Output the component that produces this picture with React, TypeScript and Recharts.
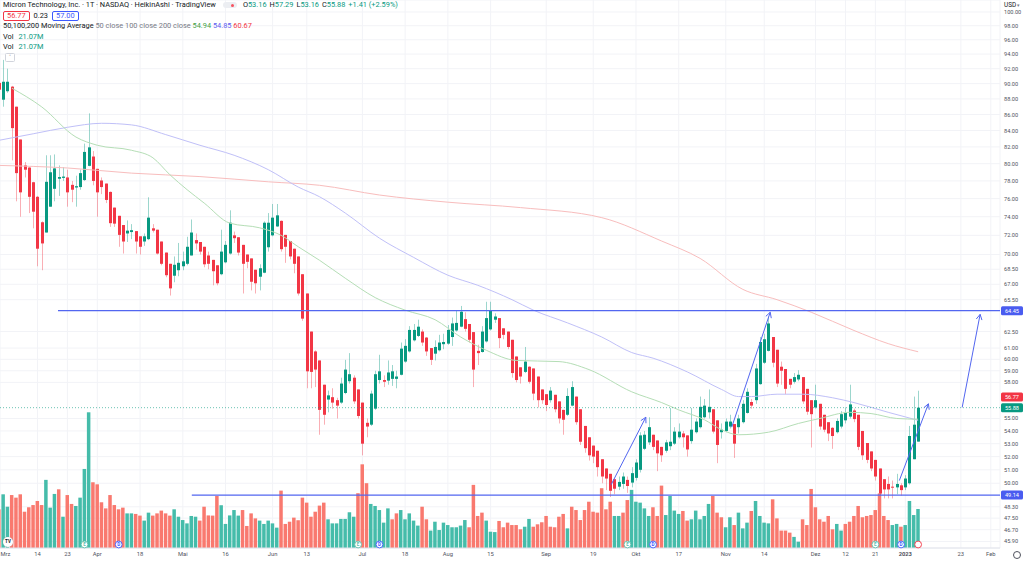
import React from "react";
import {
  ComposedChart,
  Bar,
  Line,
  XAxis,
  YAxis,
  CartesianGrid,
  ReferenceLine,
  ReferenceDot,
} from "recharts";

// Heikin Ashi candles, one per trading day (Mar 1 2022 .. Jan 6 2023)
const opens = [
  90.1, 87.9, 89.0, 89.6, 87.0, 82.9, 79.8, 79.55, 77.85, 76.2,
  73.4, 72.3, 75.1, 77.1, 78.25, 78.35, 78.4, 77.55, 77.25, 77.3,
  78.1, 79.75, 80.85, 79.4, 78.05, 77.7, 76.75, 75.0, 74.1, 73.1,
  72.2, 72.35, 72.45, 71.9, 71.35, 71.6, 72.75, 72.6, 71.35, 70.2,
  69.05, 67.85, 68.4, 68.8, 69.05, 69.9, 71.5, 71.3, 70.8, 69.9,
  69.45, 68.9, 68.0, 69.2, 70.1, 72.0, 71.8, 71.0, 70.0, 69.6,
  68.45, 67.75, 68.15, 70.75, 72.0, 72.95, 73.55, 72.05, 71.4, 70.6,
  69.8, 68.0, 66.1, 62.5, 60.7, 59.9, 57.8, 56.55, 56.75, 56.5,
  56.3, 57.1, 58.1, 58.4, 57.4, 56.3, 54.65, 54.5, 55.8, 58.2,
  58.2, 58.15, 58.3, 58.3, 58.65, 59.8, 60.7, 61.7, 62.1, 62.5,
  61.95, 61.0, 60.5, 60.8, 61.35, 61.4, 62.0, 62.6, 62.95, 63.65,
  63.2, 62.45, 60.75, 60.65, 61.6, 62.7, 63.6, 63.75, 62.8, 62.5,
  61.75, 60.25, 59.3, 58.9, 59.35, 59.2, 58.5, 57.4, 57.0, 56.5,
  56.95, 56.4, 55.7, 55.3, 56.05, 56.8, 55.75, 54.4, 53.5, 52.85,
  52.45, 51.8, 51.1, 50.7, 50.3, 49.75, 49.95, 50.25, 50.05, 50.4,
  51.0, 52.6, 53.1, 53.7, 53.25, 52.75, 52.45, 52.8, 53.0, 53.5,
  53.8, 53.65, 53.2, 53.9, 54.3, 55.1, 55.5, 55.75, 54.85, 53.9,
  54.0, 54.35, 54.55, 54.3, 54.7, 55.45, 56.35, 56.5, 57.85, 59.7,
  60.75, 62.0, 60.85, 59.35, 59.15, 58.3, 58.05, 58.25, 58.45, 57.45,
  56.5, 55.9, 56.2, 55.3, 54.7, 54.25, 53.9, 54.35, 54.85, 55.15,
  55.65, 55.3, 54.0, 53.05, 52.4, 51.75, 51.1, 50.3, 49.95, 49.75,
  49.7, 49.85, 49.7, 50.0, 51.8, 53.16,
];

const closes = [
  89.2, 90.25, 90.25, 84.3, 78.9, 76.7, 79.3, 76.2, 74.55, 70.6,
  71.15, 77.9, 79.0, 79.45, 78.45, 78.5, 76.7, 77.0, 77.4, 78.9,
  81.4, 81.95, 78.0, 76.7, 77.3, 75.85, 73.3, 73.25, 72.05, 71.35,
  72.5, 72.55, 71.35, 70.8, 71.9, 73.9, 72.5, 70.1, 69.05, 67.9,
  66.6, 68.95, 69.15, 69.3, 70.8, 72.3, 71.15, 70.3, 69.0, 69.05,
  68.3, 67.1, 70.3, 71.0, 73.35, 71.7, 70.2, 69.05, 69.25, 67.25,
  67.1, 68.6, 73.35, 73.35, 73.9, 74.15, 70.55, 70.8, 69.8, 69.05,
  66.1, 63.7, 58.95, 58.9, 59.1, 55.7, 55.3, 56.9, 56.3, 56.05,
  57.9, 59.1, 58.7, 56.4, 55.2, 53.0, 54.35, 57.05, 58.7, 58.95,
  58.05, 58.85, 58.95, 58.5, 60.95, 61.2, 62.65, 62.65, 62.95, 61.5,
  60.7, 59.95, 61.1, 61.5, 61.55, 62.65, 63.25, 63.3, 64.35, 62.75,
  61.75, 59.1, 60.55, 62.5, 63.75, 64.5, 63.9, 61.9, 62.2, 61.1,
  58.8, 58.2, 58.5, 59.8, 58.05, 57.05, 56.5, 56.5, 56.1, 57.3,
  55.75, 55.0, 54.9, 56.85, 57.6, 54.7, 53.15, 52.65, 52.1, 52.0,
  51.2, 50.5, 50.35, 49.45, 49.6, 50.1, 50.5, 49.8, 50.75, 51.55,
  53.65, 53.7, 54.3, 52.75, 52.25, 52.1, 53.1, 53.15, 53.95, 53.95,
  53.5, 52.55, 54.1, 54.75, 55.95, 56.05, 55.95, 53.95, 52.9, 54.1,
  54.75, 54.75, 53.0, 55.0, 56.2, 57.2, 56.05, 59.2, 61.55, 61.8,
  63.25, 59.7, 57.9, 59.0, 57.45, 57.8, 58.45, 58.65, 56.4, 55.55,
  55.35, 56.5, 54.35, 54.1, 53.8, 53.6, 54.8, 55.35, 55.45, 56.15,
  54.95, 52.75, 52.1, 51.75, 51.1, 50.5, 49.25, 49.55, 49.55, 49.7,
  49.95, 49.5, 50.35, 53.6, 54.5, 55.88,
];

const highs = [
  90.4, 93.2, 92.0, 89.7, 87.0, 82.9, 80.2, 79.6, 77.9, 76.3,
  73.5, 81.0, 81.0, 81.1, 79.8, 79.6, 79.3, 78.0, 78.6, 79.3,
  82.4, 86.15, 81.5, 79.4, 78.4, 77.7, 76.8, 75.0, 74.1, 73.1,
  73.6, 73.2, 72.45, 71.9, 72.2, 76.15, 73.2, 72.6, 71.35, 70.2,
  69.05, 69.8, 71.2, 70.3, 71.85, 73.7, 72.2, 71.3, 70.8, 70.3,
  69.45, 68.9, 72.6, 71.4, 74.7, 72.4, 71.8, 71.0, 70.0, 69.6,
  68.45, 69.0, 73.5, 74.4, 75.4, 75.4, 73.6, 72.05, 71.4, 70.6,
  69.8, 68.0, 66.1, 62.5, 60.8, 59.9, 57.8, 57.3, 57.5, 56.7,
  58.4, 59.95, 60.55, 58.6, 57.4, 56.3, 55.0, 57.3, 59.0, 60.4,
  58.6, 59.9, 59.5, 59.0, 61.5, 61.8, 63.0, 63.2, 63.6, 62.7,
  62.0, 61.0, 61.7, 62.2, 62.3, 63.1, 63.8, 64.5, 64.9, 64.3,
  63.2, 62.45, 61.3, 63.0, 65.3, 65.3, 64.2, 63.75, 62.8, 62.5,
  61.75, 60.25, 59.3, 61.1, 59.4, 59.2, 58.5, 57.4, 57.0, 57.6,
  56.95, 56.4, 55.7, 57.5, 58.1, 56.8, 55.75, 54.4, 53.5, 52.85,
  52.45, 51.8, 51.1, 50.7, 50.35, 50.5, 50.8, 50.5, 51.2, 51.8,
  53.9, 54.0, 55.1, 53.7, 53.25, 52.75, 53.3, 55.85, 54.3, 54.6,
  54.0, 53.65, 55.85, 55.0, 56.8, 56.6, 57.4, 55.75, 54.85, 54.6,
  55.0, 55.3, 54.55, 55.3, 56.5, 57.5, 56.6, 59.6, 62.0, 62.3,
  63.9, 62.0, 60.85, 59.8, 59.15, 58.3, 58.8, 59.05, 58.45, 57.45,
  56.5, 57.8, 56.2, 55.3, 54.7, 54.3, 55.0, 55.6, 55.9, 57.8,
  55.8, 55.3, 54.0, 53.05, 52.4, 51.75, 51.1, 50.3, 50.5, 50.2,
  50.7, 50.0, 50.6, 54.4, 56.8, 57.29,
];

const lows = [
  88.8, 87.0, 88.8, 80.4, 75.7, 74.0, 78.4, 74.4, 72.75, 68.8,
  68.4, 72.3, 75.1, 75.7, 76.3, 78.0, 75.1, 75.6, 75.1, 77.0,
  78.0, 79.7, 77.5, 74.0, 76.5, 75.5, 72.9, 72.9, 70.8, 70.1,
  71.3, 71.6, 70.1, 70.0, 70.9, 71.5, 72.3, 70.0, 68.9, 67.7,
  65.9, 67.2, 67.8, 68.4, 68.9, 69.9, 70.5, 70.0, 68.7, 68.5,
  66.9, 66.9, 67.9, 69.1, 70.0, 71.2, 69.9, 66.1, 68.6, 66.4,
  66.1, 66.4, 68.1, 70.3, 71.9, 72.9, 70.3, 69.15, 69.5, 68.1,
  65.9, 63.5, 57.5, 57.5, 57.6, 53.7, 54.5, 55.5, 55.8, 55.0,
  56.2, 57.0, 57.9, 56.2, 55.0, 52.1, 53.5, 54.4, 55.7, 57.9,
  57.6, 57.8, 57.7, 57.5, 58.6, 59.7, 60.6, 61.6, 62.0, 61.2,
  60.3, 59.5, 59.9, 60.7, 60.9, 61.3, 61.2, 62.5, 62.9, 62.5,
  61.5, 57.6, 59.5, 60.6, 61.5, 62.6, 63.3, 61.0, 61.8, 60.9,
  58.4, 58.0, 57.9, 58.8, 57.9, 56.5, 55.9, 56.2, 55.6, 56.3,
  55.5, 54.6, 53.7, 55.2, 56.0, 54.5, 52.9, 52.3, 51.7, 51.5,
  50.5, 50.0, 49.5, 49.0, 49.2, 49.5, 49.6, 49.3, 49.7, 50.2,
  50.8, 52.5, 52.9, 52.5, 50.9, 51.6, 52.3, 52.5, 52.9, 53.4,
  52.7, 52.0, 53.0, 53.8, 54.2, 55.0, 55.0, 53.8, 51.5, 53.4,
  53.9, 54.2, 51.9, 53.8, 54.6, 55.4, 55.8, 56.2, 57.8, 59.6,
  60.7, 59.3, 57.6, 57.8, 57.0, 57.5, 57.9, 58.1, 56.2, 55.3,
  52.7, 55.8, 54.1, 53.9, 53.2, 52.6, 53.8, 54.2, 54.6, 55.0,
  54.7, 52.5, 51.75, 51.5, 50.9, 50.2, 49.1, 48.9, 48.9, 48.9,
  49.2, 49.1, 49.5, 49.9, 51.8, 53.16,
];

// volume in millions, and whether the volume bar is drawn as an up bar
const volumes = [
  20.9, 29.0, 22.3, 28.6, 27.2, 29.0, 19.6, 22.0, 23.2, 25.4,
  23.2, 36.8, 21.8, 29.2, 31.7, 16.9, 28.6, 23.8, 22.7, 27.2,
  42.7, 73.3, 35.5, 34.4, 24.7, 21.4, 28.6, 23.2, 20.9, 21.8,
  18.7, 18.7, 18.4, 17.5, 14.8, 19.1, 17.5, 18.7, 20.2, 18.7,
  17.5, 20.9, 16.9, 15.1, 13.3, 17.3, 16.9, 14.8, 22.3, 17.6,
  17.5, 28.1, 23.1, 13.0, 17.6, 20.5, 17.5, 20.5, 11.9, 18.7,
  16.0, 14.8, 13.0, 14.8, 13.3, 11.0, 31.0, 13.0, 14.2, 16.4,
  15.0, 27.2, 24.5, 16.9, 19.6, 22.9, 24.5, 15.5, 13.3, 13.3,
  15.7, 15.7, 19.3, 16.9, 29.6, 45.2, 35.0, 23.8, 22.7, 20.5,
  13.7, 21.4, 15.5, 18.7, 20.5, 15.5, 18.7, 14.8, 12.1, 22.3,
  15.5, 9.4, 14.2, 9.7, 13.7, 12.4, 11.2, 11.2, 12.1, 15.1,
  11.2, 34.1, 17.3, 19.1, 14.8, 8.8, 8.6, 14.6, 11.2, 13.7,
  12.4, 12.4, 10.1, 11.5, 15.7, 11.5, 12.8, 13.9, 17.3, 11.5,
  11.2, 16.9, 18.4, 10.6, 22.3, 20.5, 15.1, 20.5, 25.0, 19.6,
  19.1, 32.3, 20.9, 25.0, 17.3, 17.3, 19.1, 25.9, 31.4, 25.0,
  24.5, 21.4, 17.3, 22.0, 17.3, 33.7, 17.8, 28.1, 20.2, 18.4,
  20.0, 14.8, 15.5, 20.2, 15.5, 17.3, 23.8, 28.1, 19.1, 16.6,
  11.2, 16.6, 12.4, 19.1, 10.6, 13.7, 20.0, 25.4, 17.3, 13.7,
  13.3, 26.3, 16.0, 9.4, 9.4, 8.3, 6.0, 3.4, 15.5, 12.4,
  31.9, 22.0, 15.5, 14.2, 17.3, 10.1, 13.0, 9.4, 13.0, 14.2,
  17.3, 22.7, 16.6, 17.3, 17.8, 20.5, 29.5, 17.3, 15.1, 12.4,
  13.0, 11.5, 12.4, 25.4, 17.8, 21.07,
];

const volUp = [
  0, 1, 1, 0, 0, 0, 0, 0, 0, 0,
  0, 1, 1, 1, 0, 1, 0, 0, 1, 1,
  1, 1, 0, 0, 0, 0, 0, 0, 0, 0,
  1, 1, 0, 0, 1, 1, 0, 0, 0, 0,
  0, 1, 1, 1, 1, 1, 1, 0, 0, 0,
  0, 0, 1, 1, 1, 1, 1, 0, 0, 0,
  0, 1, 1, 1, 1, 1, 0, 0, 0, 0,
  0, 0, 0, 0, 0, 0, 0, 1, 1, 1,
  1, 1, 1, 1, 0, 0, 0, 1, 1, 1,
  1, 1, 0, 0, 1, 1, 1, 1, 1, 0,
  0, 1, 1, 1, 1, 1, 1, 1, 1, 1,
  0, 0, 0, 0, 1, 1, 1, 0, 0, 0,
  0, 0, 0, 1, 1, 0, 0, 0, 0, 0,
  0, 0, 0, 1, 0, 0, 0, 0, 0, 0,
  0, 0, 0, 0, 1, 1, 0, 0, 1, 1,
  1, 1, 1, 0, 0, 0, 1, 1, 1, 1,
  0, 0, 1, 1, 1, 1, 1, 0, 0, 0,
  1, 1, 0, 1, 1, 1, 0, 1, 1, 1,
  1, 0, 0, 0, 0, 0, 1, 1, 0, 0,
  0, 0, 0, 0, 0, 0, 1, 1, 0, 0,
  0, 0, 0, 0, 0, 0, 0, 0, 0, 1,
  1, 0, 1, 1, 1, 1,
];

// moving averages (candle index, value)
const ma50Idx = [3, 10, 18, 23, 31, 36, 40, 44, 48, 54, 61, 66, 70, 75, 81, 88, 95, 102, 108, 114, 121, 131, 138, 148, 155, 159, 165, 169, 173, 180, 187, 192, 199, 204, 210, 215];
const ma50 = [89.4, 86.97, 83.2, 82.2, 81.6, 80.7, 78.7, 77.0, 75.5, 73.3, 72.8, 72.0, 70.8, 69.4, 67.6, 65.7, 64.5, 63.6, 62.0, 60.8, 59.9, 59.8, 59.1, 57.2, 56.3, 55.7, 54.9, 54.1, 53.7, 53.9, 54.6, 55.0, 55.5, 55.4, 55.0, 54.94];
const ma100Idx = [0, 8, 16, 24, 31, 39, 47, 55, 63, 70, 75, 81, 89, 97, 105, 112, 120, 125, 133, 141, 148, 153, 161, 169, 173, 176, 182, 188, 195, 200, 208, 215];
const ma100 = [82.8, 83.6, 84.4, 84.9, 84.7, 83.5, 82.2, 81.0, 79.3, 77.3, 76.2, 74.4, 71.7, 69.7, 67.9, 66.9, 65.5, 64.5, 63.3, 62.0, 60.6, 60.1, 58.9, 57.4, 56.8, 56.8, 57.0, 57.0, 56.7, 56.3, 55.5, 54.85];
const ma200Idx = [0, 16, 31, 47, 63, 75, 89, 105, 122, 141, 155, 164, 174, 182, 190, 200, 208, 215];
const ma200 = [79.8, 79.5, 78.9, 78.5, 77.9, 77.5, 76.4, 75.6, 75.0, 73.9, 71.4, 69.6, 66.5, 65.5, 64.3, 62.6, 61.4, 60.67];

const dateTicks = [0, 9, 16, 23, 33, 43, 53, 64, 72, 85, 95, 105, 115, 128, 139, 149, 159, 170, 179, 191, 198, 205, 212, 225, 232];
const dateLabels = ["Mrz", "14", "23", "Apr", "18", "Mai", "16", "Jun", "13", "Jul", "18", "Aug", "15", "Sep", "19", "Okt", "17", "Nov", "14", "Dez", "12", "21", "2023", "23", "Feb"];
const priceTicks = [100, 98, 96, 94, 92, 90, 88, 86, 84, 82, 80, 78, 76, 74, 72, 70, 68.5, 67, 65.5, 62.5, 61, 60, 59, 58, 55, 54, 53, 52, 51, 50, 48.3, 47.5, 46.7, 45.9];

// drawings
const levelPrices = [64.45, 49.14];
const levelStarts = [13.8, 45.1];
const arrows = [
  [143.2, 49.9, 151.3, 55.1],
  [171.4, 54.3, 180.4, 64.3],
  [210.6, 50.2, 217.4, 56.2],
  [225.3, 55.9, 229.5, 64.1],
];
const tagPrices = [64.45, 56.77, 55.88, 49.14];
const tagColors = ["#4a5cf0", "#f23645", "#089981", "#4a5cf0"];
const eventIdx = [20, 28, 84, 89, 147, 153, 205, 211, 215];
const eventKind = ["E", "D", "E", "D", "E", "D", "E", "D", "S"];

const UP = "#089981";
const DOWN = "#f23645";
const VOL_UP = "#45bcaa";
const VOL_DOWN = "#f9796f";
const LINE_BLUE = "#5266f0";
const X_DOMAIN: [number, number] = [0.234, 234.15];
const P_DOMAIN: [number, number] = [45.46, 101.78];
const V_DOMAIN: [number, number] = [0, 296];

const rows = opens.map((o, i) => ({
  i,
  o,
  h: highs[i],
  l: lows[i],
  c: closes[i],
  range: [lows[i], highs[i]],
  vol: volumes[i],
  up: volUp[i],
}));

function Candle(props: any) {
  const { x, width, y, height, payload } = props;
  if (!payload || x == null || y == null) return null;
  const top = Math.min(y, y + height);
  const bot = Math.max(y, y + height);
  const { o, h, l, c } = payload;
  const lh = Math.log(h);
  const span = lh - Math.log(l);
  const py = (p: number) => (span > 0 ? top + ((bot - top) * (lh - Math.log(p))) / span : top);
  const cx = x + width / 2;
  const bx = Math.round(cx - 1.5);
  const col = c >= o ? UP : DOWN;
  const yo = py(o);
  const yc = py(c);
  return (
    <g>
      <rect x={bx + 1} y={top} width={1} height={Math.max(bot - top, 1)} fill={col} fillOpacity={0.4} />
      <rect x={bx} y={Math.min(yo, yc)} width={3} height={Math.max(Math.abs(yc - yo), 1)} fill={col} />
    </g>
  );
}

function VolBar(props: any) {
  const { x, width, y, height, payload } = props;
  if (!payload || x == null) return null;
  const cx = x + width / 2;
  return <rect x={cx - 1.75} y={y} width={3.5} height={height} fill={payload.up ? VOL_UP : VOL_DOWN} />;
}

function ArrowShape(props: any) {
  const { x1, y1, x2, y2 } = props;
  if ([x1, y1, x2, y2].some((v) => v == null || isNaN(v))) return null;
  const a = Math.atan2(y2 - y1, x2 - x1);
  const len = 6;
  const w = 0.5;
  const ax = x2 - len * Math.cos(a - w);
  const ay = y2 - len * Math.sin(a - w);
  const bx = x2 - len * Math.cos(a + w);
  const by = y2 - len * Math.sin(a + w);
  return (
    <g stroke={LINE_BLUE} strokeWidth={1} fill="none">
      <line x1={x1} y1={y1} x2={x2} y2={y2} />
      <polyline points={`${ax},${ay} ${x2},${y2} ${bx},${by}`} />
    </g>
  );
}

const tagLabel = (text: string, color: string) => (props: any) => {
  const vb = props.viewBox;
  if (!vb) return null;
  const xx = vb.x + vb.width;
  const yy = vb.y;
  return (
    <g>
      <rect x={xx + 1} y={yy - 4.5} width={22} height={9} rx={1.5} fill={color} />
      <text x={xx + 12} y={yy + 2} textAnchor="middle" fontSize={5.6} fill="#ffffff">
        {text}
      </text>
    </g>
  );
};

const eventShape = (kind: string) => (props: any) => {
  const { cx, cy } = props;
  if (cx == null || cy == null) return null;
  const col = kind === "D" ? "#3d5afe" : kind === "S" ? "#f23645" : "#5fbfae";
  return (
    <g>
      <circle cx={cx} cy={cy - 3.5} r={3.4} fill="#ffffff" stroke={col} strokeWidth={0.9} />
      <text x={cx} y={cy - 1.6} textAnchor="middle" fontSize={4.6} fontWeight={700} fill={col}>
        {kind === "S" ? "" : kind}
      </text>
    </g>
  );
};

function DateTick(props: any) {
  const { x, y, payload } = props;
  const k = dateTicks.indexOf(payload.value);
  const label = k >= 0 ? dateLabels[k] : "";
  // the first label sits on the left edge: anchor it at its start so it stays readable
  const anchor = k === 0 ? "start" : "middle";
  return (
    <text
      x={k === 0 ? Math.max(x, 0.5) : x}
      y={y + 6}
      textAnchor={anchor}
      fontSize={5.8}
      fill="#50535e"
      fontWeight={label === "2023" ? 700 : 400}
    >
      {label}
    </text>
  );
}

const legendBox = (color: string): React.CSSProperties => ({
  display: "inline-block",
  border: `1px solid ${color}`,
  color,
  borderRadius: 2,
  padding: "0 3px",
  lineHeight: "8px",
  marginRight: 4,
});

const gap: React.CSSProperties = { marginLeft: 3 };

export default function App() {
  return (
    <div
      style={{
        position: "absolute",
        left: 0,
        top: 0,
        width: 1024,
        height: 563,
        background: "#ffffff",
        fontFamily: "Roboto, 'Noto Sans', sans-serif",
        overflow: "hidden",
      }}
    >
      <ComposedChart width={1024} height={563} data={rows} margin={{ top: 0, right: 0, bottom: 0, left: 0 }}>
        <CartesianGrid xAxisId="main" yAxisId="price" stroke="#f2f3f7" />
        <XAxis
          xAxisId="main"
          dataKey="i"
          type="number"
          domain={X_DOMAIN}
          allowDataOverflow
          ticks={dateTicks}
          interval={0}
          tick={<DateTick />}
          height={15}
          tickSize={0}
          tickMargin={2}
          axisLine={{ stroke: "#e0e3eb" }}
          tickLine={false}
        />
        <XAxis xAxisId="vol" dataKey="i" type="number" domain={X_DOMAIN} allowDataOverflow hide />
        <YAxis
          yAxisId="price"
          orientation="right"
          scale="log"
          type="number"
          domain={P_DOMAIN}
          allowDataOverflow
          ticks={priceTicks}
          interval={0}
          width={24}
          tickSize={0}
          tickMargin={4}
          axisLine={false}
          tickLine={false}
          tick={{ fontSize: 5.6, fill: "#50535e" }}
          tickFormatter={(v: number) => v.toFixed(2)}
        />
        <YAxis yAxisId="vol" domain={V_DOMAIN} allowDataOverflow hide />

        <Bar xAxisId="vol" yAxisId="vol" dataKey="vol" barSize={4} shape={<VolBar />} isAnimationActive={false} />
        <Bar xAxisId="main" yAxisId="price" dataKey="range" barSize={3} shape={<Candle />} isAnimationActive={false} />

        <Line
          xAxisId="main"
          yAxisId="price"
          data={ma200Idx.map((i, k) => ({ i, v: ma200[k] }))}
          dataKey="v"
          type="monotone"
          stroke="#f8bdbd"
          strokeWidth={1}
          dot={false}
          activeDot={false}
          isAnimationActive={false}
        />
        <Line
          xAxisId="main"
          yAxisId="price"
          data={ma100Idx.map((i, k) => ({ i, v: ma100[k] }))}
          dataKey="v"
          type="monotone"
          stroke="#c0c0f8"
          strokeWidth={1}
          dot={false}
          activeDot={false}
          isAnimationActive={false}
        />
        <Line
          xAxisId="main"
          yAxisId="price"
          data={ma50Idx.map((i, k) => ({ i, v: ma50[k] }))}
          dataKey="v"
          type="monotone"
          stroke="#b5deb6"
          strokeWidth={1}
          dot={false}
          activeDot={false}
          isAnimationActive={false}
        />

        <ReferenceLine xAxisId="main" yAxisId="price" y={55.88} stroke={UP} strokeOpacity={0.6} strokeDasharray="1 2" />

        {levelPrices.map((p, k) => (
          <ReferenceLine
            key={`lvl${k}`}
            xAxisId="main"
            yAxisId="price"
            segment={[
              { x: levelStarts[k], y: p },
              { x: X_DOMAIN[1], y: p },
            ]}
            stroke={LINE_BLUE}
            strokeWidth={1.2}
          />
        ))}

        {arrows.map((a, k) => (
          <ReferenceLine
            key={`arr${k}`}
            xAxisId="main"
            yAxisId="price"
            segment={[
              { x: a[0], y: a[1] },
              { x: a[2], y: a[3] },
            ]}
            shape={<ArrowShape />}
            ifOverflow="visible"
          />
        ))}

        {eventIdx.map((i, k) => (
          <ReferenceDot
            key={`ev${k}`}
            xAxisId="main"
            yAxisId="vol"
            x={i}
            y={0}
            ifOverflow="visible"
            shape={eventShape(eventKind[k])}
          />
        ))}

        {tagPrices.map((p, k) => (
          <ReferenceLine
            key={`tag${k}`}
            xAxisId="main"
            yAxisId="price"
            y={p}
            stroke="none"
            label={tagLabel(p.toFixed(2), tagColors[k])}
          />
        ))}
      </ComposedChart>

      {/* legend */}
      <div
        style={{
          position: "absolute",
          left: 3,
          top: 0,
          fontSize: 7.4,
          lineHeight: "10.5px",
          color: "#131722",
          whiteSpace: "nowrap",
        }}
      >
        <div>
          Micron Technology, Inc. · 1T · NASDAQ · HeikinAshi · TradingView
          <span
            style={{
              display: "inline-block",
              width: 14,
              height: 6,
              borderRadius: 3,
              background: "#eceef2",
              margin: "0 6px 0 7px",
              verticalAlign: "middle",
              position: "relative",
            }}
          >
            <span style={{ position: "absolute", left: 8, top: 1.5, width: 3, height: 3, borderRadius: 2, background: "#f7525f" }} />
          </span>
          <span>O</span>
          <span style={{ color: UP }}>53.16</span>
          <span style={gap}>H</span>
          <span style={{ color: UP }}>57.29</span>
          <span style={gap}>L</span>
          <span style={{ color: UP }}>53.16</span>
          <span style={gap}>C</span>
          <span style={{ color: UP }}>55.88</span>
          <span style={{ ...gap, color: UP }}>+1.41 (+2.59%)</span>
        </div>
        <div>
          <span style={legendBox("#f23645")}>56.77</span>
          <span style={{ marginRight: 4 }}>0.23</span>
          <span style={legendBox("#3d5afe")}>57.00</span>
        </div>
        <div>
          50,100,200 Moving Average <span style={{ color: "#787b86" }}>50 close 100 close 200 close</span>{" "}
          <span style={{ color: "#43a047" }}>54.94</span> <span style={{ color: "#5c5cf0" }}>54.85</span>{" "}
          <span style={{ color: "#f23645" }}>60.67</span>
        </div>
        <div>
          Vol <span style={{ color: UP, marginLeft: 3 }}>21.07M</span>
        </div>
        <div>
          Vol <span style={{ color: UP, marginLeft: 3 }}>21.07M</span>
        </div>
      </div>

      {/* collapse button */}
      <div
        style={{
          position: "absolute",
          left: 5,
          top: 53,
          width: 8,
          height: 7,
          border: "1px solid #d1d4dc",
          borderRadius: 1.5,
          background: "#fff",
          fontSize: 5,
          lineHeight: "7px",
          textAlign: "center",
          color: "#555",
        }}
      >
        ˄
      </div>

      {/* currency */}
      <div style={{ position: "absolute", left: 1004, top: 1, fontSize: 6.4, color: "#131722", whiteSpace: "nowrap" }}>
        USD<span style={{ fontSize: 4.5, marginLeft: 1, color: "#787b86" }}>▾</span>
      </div>

      {/* logo */}
      <div
        style={{
          position: "absolute",
          left: 3,
          top: 537,
          width: 10,
          height: 10,
          borderRadius: 5,
          background: "#ffffff",
          boxShadow: "0 0 1px #999",
          fontSize: 4.5,
          fontWeight: 700,
          lineHeight: "10px",
          textAlign: "center",
          color: "#131722",
        }}
      >
        TV
      </div>

      {/* settings */}
      <div
        style={{
          position: "absolute",
          left: 1013,
          top: 551,
          width: 6,
          height: 6,
          borderRadius: 4,
          border: "1.2px solid #50535e",
        }}
      />
    </div>
  );
}
